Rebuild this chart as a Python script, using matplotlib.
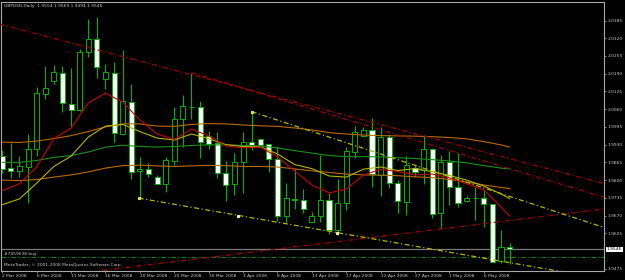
import matplotlib
matplotlib.use('Agg')
import matplotlib.pyplot as plt
import matplotlib.transforms as mtransforms

# ---------------- data (GBPUSD daily, 2 Mar 2008 .. 9 May 2008) ----------------
opens = [1.9888, 1.9843, 1.9834, 1.9847, 1.9913, 2.0116, 2.0164, 2.0191, 2.0078, 2.0056,
         2.0268, 2.0317, 2.0171, 2.0191, 1.9968, 2.0085, 1.9832, 1.9842, 1.9812, 1.9785,
         1.9871, 2.0023, 2.0067, 2.0069, 1.9962, 1.9935, 1.9827, 1.9785, 1.9867, 1.9938,
         1.9951, 1.9931, 1.9877, 1.9669, 1.9728, 1.9726, 1.9648, 1.9668, 1.9727, 1.9617,
         1.9715, 1.9904, 1.9962, 1.9984, 1.9819, 1.9959, 1.9788, 1.9721, 1.9843, 1.9837,
         1.9913, 1.9678, 1.9865, 1.9776, 1.9724, 1.9733, 1.9734, 1.9712, 1.9503, 1.9554]
highs = [1.9910, 1.9937, 1.9888, 1.9968, 2.0142, 2.0218, 2.0222, 2.0218, 2.0210, 2.0281,
         2.0391, 2.0399, 2.0224, 2.0232, 2.0277, 2.0152, 1.9883, 1.9861, 1.9819, 1.9886,
         2.0069, 2.0111, 2.0194, 2.0091, 1.9981, 1.9977, 1.9871, 1.9898, 1.9975, 2.0050,
         1.9953, 1.9934, 1.9926, 1.9788, 1.9840, 1.9766, 1.9684, 1.9892, 1.9751, 1.9803,
         1.9922, 1.9998, 1.9996, 2.0026, 1.9996, 1.9969, 1.9800, 1.9889, 1.9855, 1.9965,
         1.9916, 1.9892, 1.9908, 1.9898, 1.9743, 1.9776, 1.9764, 1.9713, 1.9617, 1.9569]
lows = [1.9826, 1.9808, 1.9812, 1.9717, 1.9889, 2.0096, 2.0152, 2.0051, 1.9992, 2.0055,
        2.0252, 2.0173, 2.0135, 1.9941, 1.9965, 1.9803, 1.9732, 1.9812, 1.9784, 1.9757,
        1.9855, 1.9922, 2.0023, 1.9880, 1.9913, 1.9809, 1.9723, 1.9745, 1.9754, 1.9910,
        1.9927, 1.9831, 1.9651, 1.9644, 1.9694, 1.9679, 1.9646, 1.9647, 1.9602, 1.9599,
        1.9690, 1.9880, 1.9958, 1.9773, 1.9743, 1.9770, 1.9680, 1.9672, 1.9812, 1.9785,
        1.9662, 1.9620, 1.9709, 1.9702, 1.9721, 1.9654, 1.9629, 1.9499, 1.9495, 1.9494]
closes = [1.9841, 1.9833, 1.9852, 1.9913, 2.0118, 2.0136, 2.0195, 2.0081, 2.0056, 2.0270,
          2.0317, 2.0216, 2.0195, 1.9972, 2.0091, 1.9831, 1.9842, 1.9821, 1.9787, 1.9874,
          2.0023, 2.0073, 2.0069, 1.9941, 1.9931, 1.9827, 1.9782, 1.9865, 1.9938, 1.9930,
          1.9929, 1.9877, 1.9668, 1.9733, 1.9730, 1.9693, 1.9669, 1.9727, 1.9617, 1.9715,
          1.9908, 1.9977, 1.9984, 1.9822, 1.9959, 1.9788, 1.9723, 1.9855, 1.9831, 1.9913,
          1.9676, 1.9865, 1.9776, 1.9715, 1.9735, 1.9735, 1.9711, 1.9501, 1.9554, 1.9546]

date_ticks = [0, 4, 8, 12, 16, 20, 24, 28, 32, 36, 40, 44, 48, 52, 56]
date_labels = ["2 Mar 2008", "6 Mar 2008", "11 Mar 2008", "16 Mar 2008", "20 Mar 2008",
               "25 Mar 2008", "30 Mar 2008", "3 Apr 2008", "8 Apr 2008", "13 Apr 2008",
               "17 Apr 2008", "22 Apr 2008", "27 Apr 2008", "1 May 2008", "6 May 2008"]

price_ticks = [2.0385, 2.0320, 2.0255, 2.0190, 2.0125, 2.0060, 1.9995, 1.9930,
               1.9865, 1.9800, 1.9735, 1.9670, 1.9605, 1.9475]

# moving averages read at every second bar
ma_bars = [0, 2, 4, 6, 8, 10, 12, 14, 16, 18, 20, 22, 24, 26, 28, 30, 32, 34, 36, 38,
           40, 42, 44, 46, 48, 50, 52, 54, 56, 58, 59]
ma_red = [1.9762, 1.9787, 1.9848, 1.9952, 1.9991, 2.0083, 2.0119, 2.0086, 2.0020, 1.9969,
          1.9949, 1.9987, 1.9962, 1.9925, 1.9918, 1.9921, 1.9885, 1.9833, 1.9782, 1.9753,
          1.9767, 1.9819, 1.9839, 1.9831, 1.9819, 1.9822, 1.9808, 1.9786, 1.9764, 1.9701, 1.9668]
ma_yellow = [1.9710, 1.9731, 1.9789, 1.9850, 1.9888, 1.9958, 1.9998, 2.0004, 1.9978, 1.9954,
             1.9947, 1.9969, 1.9952, 1.9930, 1.9923, 1.9922, 1.9896, 1.9857, 1.9842, 1.9815,
             1.9811, 1.9840, 1.9848, 1.9835, 1.9842, 1.9831, 1.9817, 1.9800, 1.9778, 1.9749, 1.9732]
ma_green = [1.9865, 1.9865, 1.9872, 1.9883, 1.9890, 1.9903, 1.9921, 1.9928, 1.9923, 1.9921,
            1.9923, 1.9927, 1.9929, 1.9929, 1.9927, 1.9925, 1.9918, 1.9908, 1.9899, 1.9890,
            1.9886, 1.9886, 1.9885, 1.9882, 1.9879, 1.9875, 1.9870, 1.9863, 1.9853, 1.9844, 1.9841]
ma_orange_up = [1.9939, 1.9938, 1.9943, 1.9952, 1.9963, 1.9978, 1.9995, 2.0006, 2.0006, 1.9998,
                1.9997, 2.0004, 2.0007, 2.0006, 2.0002, 1.9999, 1.9997, 1.9991, 1.9984, 1.9974,
                1.9969, 1.9965, 1.9963, 1.9962, 1.9961, 1.9959, 1.9956, 1.9951, 1.9941, 1.9929, 1.9921]
ma_orange_low = [1.9800, 1.9798, 1.9802, 1.9811, 1.9819, 1.9830, 1.9844, 1.9853, 1.9855, 1.9852,
                 1.9850, 1.9852, 1.9854, 1.9853, 1.9850, 1.9850, 1.9848, 1.9841, 1.9834, 1.9828,
                 1.9822, 1.9819, 1.9818, 1.9816, 1.9812, 1.9809, 1.9802, 1.9793, 1.9782, 1.9773, 1.9769]

# trend lines (bar index, price)
red1_x, red1_y = [-0.3, 70.0], [2.0372, 1.9787]
red2_x, red2_y = [22.0, 70.0], [2.0194, 1.9737]
red3_x, red3_y = [11.7, 70.0], [1.9469, 1.9694]
yel1_x, yel1_y = [15.86, 70.0], [1.9734, 1.9437]
yel2_x, yel2_y = [29.0, 70.0], [2.0051, 1.9626]
dot_x, dot_y = [27.44, 38.88], [1.9669, 1.9607]

bid_price = 1.9546
order_price = 1.9519

# ---------------- drawing ----------------
TXT = '#c8c8c8'
FS = 3.2
GREEN = '#00b400'

fig = plt.figure(figsize=(6.25, 2.8), dpi=100, facecolor='black')
ax = fig.add_axes([0.0024, 0.0339, 0.964, 0.9607], facecolor='black')
ax.set_xlim(-0.093, 69.97)
ax.set_ylim(1.94685, 2.04547)

xs = list(range(len(opens)))
ax.vlines(xs, lows, highs, color=GREEN, lw=0.8, zorder=2)
bottoms = [min(o, c) for o, c in zip(opens, closes)]
heights = [max(abs(c - o), 0.00004) for o, c in zip(opens, closes)]
fills = ['white' if c < o else 'black' for o, c in zip(opens, closes)]
ax.bar(xs, heights, bottom=bottoms, width=0.6, color=fills, edgecolor=GREEN,
       linewidth=0.7, zorder=3)

# horizontal lines
ax.axhline(bid_price, color='#7a7a7a', lw=0.9, zorder=1)
ax.axhline(order_price, color='#008a00', lw=0.8, ls=(0, (4, 2, 1, 2)), zorder=1)

# moving averages
ax.plot(ma_bars, ma_orange_up, color='#b86a00', lw=0.8, zorder=4)
ax.plot(ma_bars, ma_green, color='#1d8f1d', lw=0.8, zorder=4)
ax.plot(ma_bars, ma_orange_low, color='#b86a00', lw=0.8, zorder=4)
ax.plot(ma_bars, ma_yellow, color='#b4b400', lw=0.8, zorder=4)
ax.plot(ma_bars, ma_red, color='#c80000', lw=0.8, zorder=4)

# trend lines
dd = (0, (4, 2, 1, 2))
ax.plot(red1_x, red1_y, color='#a00000', lw=0.9, ls=dd, zorder=5)
ax.plot(red2_x, red2_y, color='#a00000', lw=0.9, ls=dd, zorder=5)
ax.plot(red3_x, red3_y, color='#a00000', lw=0.9, ls=dd, zorder=5)
ax.plot(yel1_x, yel1_y, color='#b4b400', lw=0.9, ls=dd, zorder=5)
ax.plot(yel2_x, yel2_y, color='#b4b400', lw=0.9, ls=dd, zorder=5)
ax.plot([yel1_x[0], yel2_x[0]], [yel1_y[0], yel2_y[0]], 's', color='#e0e060', ms=1.3, zorder=6)
ax.plot(dot_x, dot_y, 's', color='#f0f0c0', ms=1.3, zorder=6)

# axes styling
for s in ax.spines.values():
    s.set_color('#a8a8a8')
    s.set_linewidth(0.8)
ax.yaxis.tick_right()
ax.set_yticks(price_ticks)
ax.set_yticklabels(['%.4f' % p for p in price_ticks])
ax.tick_params(axis='y', colors='#a8a8a8', labelcolor=TXT, labelsize=FS,
               length=1.5, width=0.5, pad=1)
ax.set_xticks(date_ticks)
ax.set_xticklabels(date_labels, ha='left')
ax.tick_params(axis='x', colors='#a8a8a8', labelcolor=TXT, labelsize=FS,
               length=1.5, width=0.5, pad=0.8)

# current price label on the axis
trans = mtransforms.blended_transform_factory(ax.transAxes, ax.transData)
ax.text(1.004, bid_price, '%.4f' % bid_price, transform=trans, fontsize=FS,
        color='black', va='center', ha='left',
        bbox=dict(facecolor='white', edgecolor='none', pad=0.6), clip_on=False)

# texts
fig.text(4 / 625, 1 - 6 / 280, 'GBPUSD,Daily  1.9554 1.9569 1.9494 1.9546',
         color=TXT, fontsize=FS, va='center', ha='left')
ax.text(0.004, order_price + 0.0004, '#7459638 buy', transform=trans, color=TXT,
        fontsize=FS, va='bottom', ha='left')
fig.text(3.5 / 625, 1 - 265 / 280, 'MetaTrader, © 2001-2008 MetaQuotes Software Corp.',
         color=TXT, fontsize=FS, va='center', ha='left')

fig.savefig('out.png', dpi=100, facecolor='black')
